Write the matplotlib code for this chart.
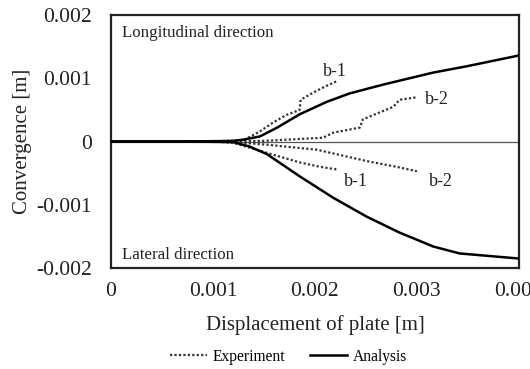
import matplotlib
matplotlib.use("Agg")
import matplotlib.pyplot as plt

plt.rcParams['font.family'] = ['Liberation Serif', 'DejaVu Serif']

# Analysis curves
ana_x = [0, 0.0005, 0.0010, 0.00120, 0.00130, 0.00146, 0.00163, 0.00185, 0.00212, 0.00234,
         0.00267, 0.00316, 0.00349, 0.0040]
ana_long = [0, 0, 0.000005, 0.00001, 0.00003, 0.00008, 0.00022, 0.00043, 0.00063, 0.00076,
            0.0009, 0.00109, 0.00119, 0.00136]
ana_lat_x = [0, 0.0005, 0.0010, 0.00120, 0.00136, 0.00153, 0.00185, 0.00218, 0.00251, 0.00283,
             0.00316, 0.00342, 0.0040]
ana_lat = [0, 0, -0.000005, -0.00001, -0.00008, -0.0002, -0.00055, -0.00089, -0.00119, -0.00144,
           -0.00166, -0.00177, -0.00185]

# Experiment curves
exp_b1_long_x = [0, 0.0010, 0.00130, 0.00146, 0.00159, 0.00172, 0.00185, 0.00186, 0.00198, 0.00210, 0.00221]
exp_b1_long = [0, 0, 0.00002, 0.00016, 0.0003, 0.00042, 0.0005, 0.00066, 0.00077, 0.00087, 0.00095]
exp_b2_long_x = [0, 0.0010, 0.00150, 0.00208, 0.00218, 0.00244, 0.00247, 0.00262, 0.00277, 0.00283, 0.0030]
exp_b2_long = [0, 0, 0.00001, 0.00006, 0.00014, 0.00022, 0.00035, 0.00045, 0.00055, 0.00066, 0.0007]
exp_b1_lat_x = [0, 0.0010, 0.00120, 0.00153, 0.00185, 0.00205, 0.00221]
exp_b1_lat = [0, 0, -0.00002, -0.00018, -0.00033, -0.0004, -0.00044]
exp_b2_lat_x = [0, 0.0010, 0.00120, 0.00153, 0.00202, 0.00251, 0.00280, 0.0030]
exp_b2_lat = [0, 0, -0.00001, -0.00005, -0.00013, -0.00031, -0.0004, -0.00047]

x_ticks = [0, 0.001, 0.002, 0.003, 0.004]
x_tick_labels = ['0', '0.001', '0.002', '0.003', '0.004']
y_ticks = [-0.002, -0.001, 0, 0.001, 0.002]
y_tick_labels = ['-0.002', '-0.001', '0', '0.001', '0.002']

fig = plt.figure(figsize=(5.30, 3.69), dpi=100)
ax = fig.add_axes([0.2094, 0.2737, 0.7696, 0.6856])

ax.axhline(0, color='#555555', lw=0.9, zorder=1)

dot = (0, (1, 1))
ax.plot(exp_b1_long_x, exp_b1_long, color='#333333', lw=1.6, ls=dot, zorder=2)
ax.plot(exp_b2_long_x, exp_b2_long, color='#333333', lw=1.6, ls=dot, zorder=2)
ax.plot(exp_b1_lat_x, exp_b1_lat, color='#333333', lw=1.6, ls=dot, zorder=2)
ax.plot(exp_b2_lat_x, exp_b2_lat, color='#333333', lw=1.6, ls=dot, zorder=2,
        label='Experiment')
ax.plot(ana_x, ana_long, color='black', lw=1.8, zorder=3, label='Analysis')
ax.plot(ana_lat_x, ana_lat, color='black', lw=1.8, zorder=3)

ax.set_xlim(0, 0.004)
ax.set_ylim(-0.002, 0.002)
ax.set_xticks(x_ticks)
ax.set_xticklabels(x_tick_labels)
ax.set_yticks(y_ticks)
ax.set_yticklabels(y_tick_labels)
ax.tick_params(length=0, labelsize=15.5, colors='#222222')
ax.tick_params(axis='y', pad=14)
ax.tick_params(axis='x', pad=10)
for s in ax.spines.values():
    s.set_linewidth(1.6)
    s.set_color('#222222')

ax.set_xlabel('Displacement of plate [m]', fontsize=15, color='#222222', labelpad=10)
ax.set_ylabel('Convergence [m]', fontsize=15, color='#222222')
ax.yaxis.set_label_coords(-0.194, 0.5)

ax.text(0.000108, 0.00172, 'Longitudinal direction', fontsize=12.2, color='#222222', va='center')
ax.text(0.000108, -0.00179, 'Lateral direction', fontsize=12.2, color='#222222', va='center')
ax.text(0.00220, 0.00111, 'b-1', fontsize=13, color='#222222', ha='center', va='center')
ax.text(0.00320, 0.00066, 'b-2', fontsize=13, color='#222222', ha='center', va='center')
ax.text(0.00240, -0.00063, 'b-1', fontsize=13, color='#222222', ha='center', va='center')
ax.text(0.00324, -0.00063, 'b-2', fontsize=13, color='#222222', ha='center', va='center')

fig.legend(loc='center', bbox_to_anchor=(0.544, 0.033), ncol=2, frameon=False,
           fontsize=11.2, handlelength=2.4, columnspacing=1.6, handletextpad=0.35)

fig.savefig('out.png', dpi=100)
